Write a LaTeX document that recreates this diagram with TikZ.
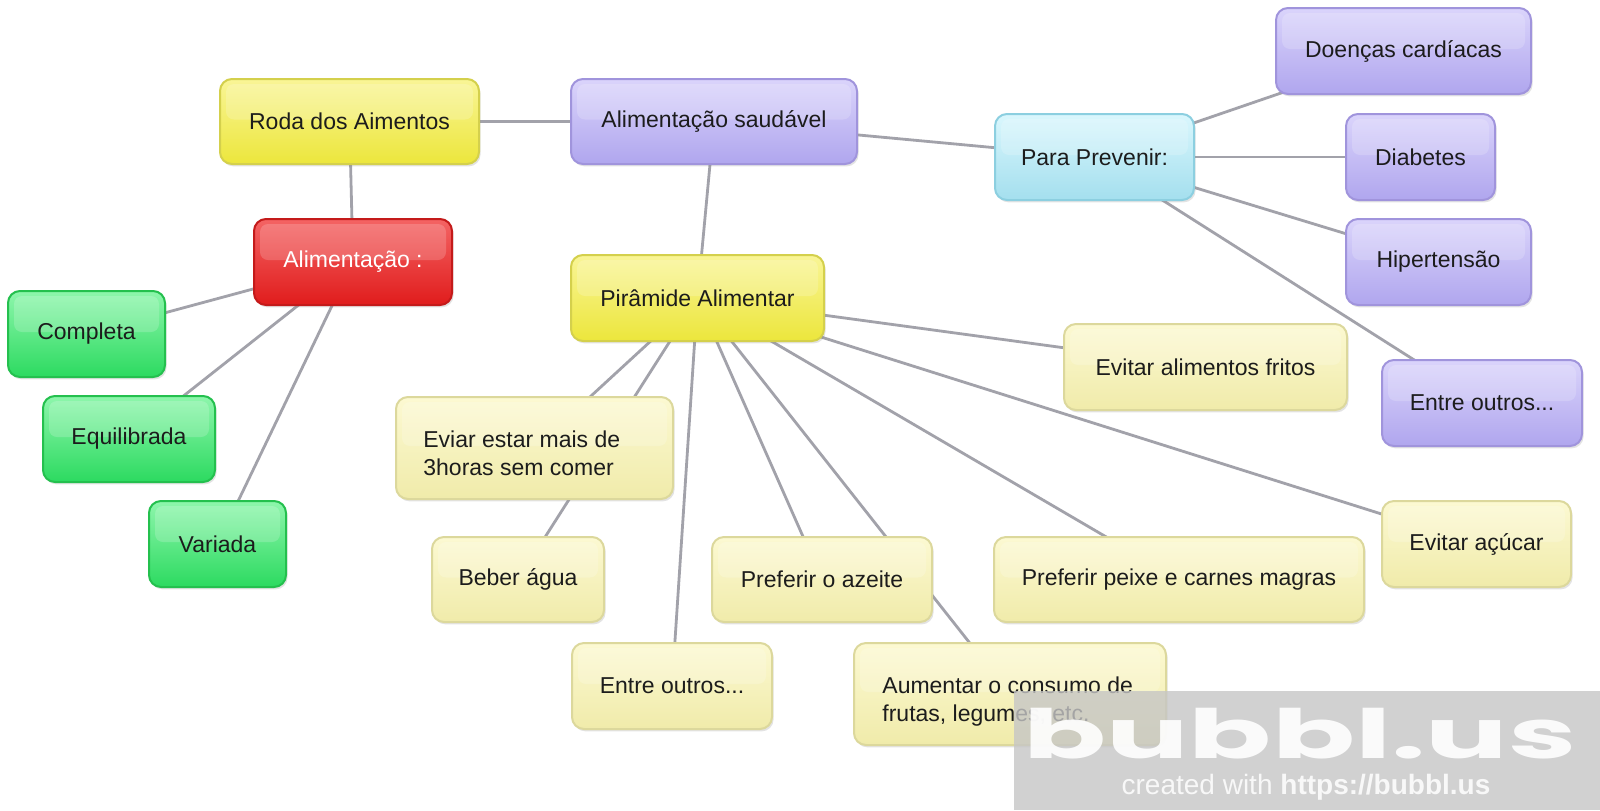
\documentclass[tikz,border=0pt]{standalone}
\usepackage{fontspec}
\setmainfont{Liberation Sans}
\newfontfamily\logofont{Poppins}
\usetikzlibrary{shadows}
\pgfdeclarelayer{background}
\pgfsetlayers{background,main}
\definecolor{txt}{HTML}{1C1C1C}
\definecolor{linec}{HTML}{A2A2AA}
\definecolor{ybT}{HTML}{F9F596}\definecolor{ybB}{HTML}{ECE63C}\definecolor{ybD}{HTML}{D4D04C}
\definecolor{ypT}{HTML}{FCF9D2}\definecolor{ypB}{HTML}{F0EBAA}\definecolor{ypD}{HTML}{DCD89C}
\definecolor{puT}{HTML}{DAD4FB}\definecolor{puB}{HTML}{B0A6EE}\definecolor{puD}{HTML}{A094DC}
\definecolor{cyT}{HTML}{DAF7FD}\definecolor{cyB}{HTML}{A4DFEE}\definecolor{cyD}{HTML}{8CCFE0}
\definecolor{reT}{HTML}{F46464}\definecolor{reB}{HTML}{E01C1C}\definecolor{reD}{HTML}{C41A1A}
\definecolor{grT}{HTML}{8EF6AC}\definecolor{grB}{HTML}{2CDA60}\definecolor{grD}{HTML}{24C04E}
\tikzset{
  box/.style={rounded corners=6pt, line width=1pt, text=txt, inner sep=0pt,
    font=\fontsize{11.5pt}{14pt}\selectfont,
    drop shadow={opacity=0.22, shadow xshift=0.8pt, shadow yshift=-1.2pt},
    path picture={\fill[white, opacity=0.18, rounded corners=4pt]
      ([xshift=3pt,yshift=-2.5pt]path picture bounding box.north west) rectangle
      ([xshift=-3pt,yshift=1pt]path picture bounding box.east);}},
  yb/.style={box, draw=ybD, top color=ybT, bottom color=ybB},
  yp/.style={box, draw=ypD, top color=ypT, bottom color=ypB},
  pu/.style={box, draw=puD, top color=puT, bottom color=puB},
  cy/.style={box, draw=cyD, top color=cyT, bottom color=cyB},
  re/.style={box, draw=reD, top color=reT, bottom color=reB, text=white},
  gr/.style={box, draw=grD, top color=grT, bottom color=grB},
  boxtext/.style={text=txt, inner sep=0pt, align=left, anchor=west,
    font=\fontsize{11.5pt}{14pt}\selectfont},
  link/.style={draw=linec, line width=1.4pt},
}
\begin{document}
\begin{tikzpicture}[x=0.5pt,y=-0.5pt]
\useasboundingbox (0,0) rectangle (1600,810);
% nodes
\node[yb, minimum width=129.5pt, minimum height=42.5pt] (roda) at (349.5,121.5) {Roda dos Aimentos};
\node[pu, minimum width=143pt, minimum height=42.5pt] (sau) at (714,121.5) {Alimentação saudável};
\node[re, minimum width=99pt, minimum height=43pt] (alim) at (353,262) {Alimentação :};
\node[cy, minimum width=99.5pt, minimum height=43pt] (prev) at (1094.5,157) {Para Prevenir:};
\node[pu, minimum width=127.5pt, minimum height=43pt] (doen) at (1403.5,51) {Doenças cardíacas};
\node[pu, minimum width=74.5pt, minimum height=43pt] (diab) at (1420.5,157) {Diabetes};
\node[pu, minimum width=92.5pt, minimum height=43pt] (hip) at (1438.5,262) {Hipertensão};
\node[pu, minimum width=100pt, minimum height=43pt] (eoa) at (1482,403) {Entre outros...};
\node[gr, minimum width=78.5pt, minimum height=43pt] (comp) at (86.5,334) {Completa};
\node[gr, minimum width=86pt, minimum height=43pt] (equi) at (129,439) {Equilibrada};
\node[gr, minimum width=68.5pt, minimum height=43pt] (vari) at (217.5,544) {Variada};
\node[yb, minimum width=126.5pt, minimum height=43pt] (pir) at (697.5,298) {Pirâmide Alimentar};
\node[yp, minimum width=141.5pt, minimum height=43pt] (fritos) at (1205.5,367) {Evitar alimentos fritos};
\node[yp, minimum width=138.5pt, minimum height=51pt] (eviar) at (534.5,448) {};
\node[boxtext] (eviarT) at ([xshift=14pt,yshift=-2.5pt]eviar.west) {Eviar estar mais de\\3horas sem comer};
\node[yp, minimum width=86pt, minimum height=42.5pt] (beber) at (518,579.5) {Beber água};
\node[yp, minimum width=110pt, minimum height=42.5pt] (azeite) at (822,579.5) {Preferir o azeite};
\node[yp, minimum width=185pt, minimum height=42.5pt] (peixe) at (1179,579.5) {Preferir peixe e carnes magras};
\node[yp, minimum width=94.5pt, minimum height=43pt] (acucar) at (1476.5,544) {Evitar açúcar};
\node[yp, minimum width=100pt, minimum height=43pt] (eob) at (672,686) {Entre outros...};
\node[yp, minimum width=156pt, minimum height=51pt] (aum) at (1010,694) {};
\node[boxtext] (aumT) at ([xshift=14.5pt,yshift=-4pt]aum.west) {Aumentar o consumo de\\frutas, legumes, etc.};
% connectors
\begin{pgfonlayer}{background}
\fill[white] (0,0) rectangle (1600,810);
\draw[link] (sau.center) -- (roda.center);
\draw[link] (roda.center) -- (alim.center);
\draw[link] (sau.center) -- (prev.center);
\draw[link] (sau.center) -- (pir.center);
\draw[link] (prev.center) -- (doen.center);
\draw[link] (prev.center) -- (diab.center);
\draw[link] (prev.center) -- (hip.center);
\draw[link] (prev.center) -- (eoa.center);
\draw[link] (alim.center) -- (comp.center);
\draw[link] (alim.center) -- (equi.center);
\draw[link] (alim.center) -- (vari.center);
\draw[link] (pir.center) -- (eviar.center);
\draw[link] (pir.center) -- (beber.center);
\draw[link] (pir.center) -- (eob.center);
\draw[link] (pir.center) -- (azeite.center);
\draw[link] (pir.center) -- (aum.center);
\draw[link] (pir.center) -- (peixe.center);
\draw[link] (pir.center) -- (fritos.center);
\draw[link] (pir.center) -- (acucar.center);
\end{pgfonlayer}
% watermark
\fill[fill={rgb,255:red,198;green,198;blue,198}, opacity=0.8] (1014,691) rectangle (1600,810);
\node[text=white, opacity=0.9, inner sep=0pt, xscale=1.8,
  font=\logofont\bfseries\fontsize{34pt}{34pt}\selectfont] (logo) at (1300,734) {bubbl.us};
\node[text=white, opacity=0.85, inner sep=0pt,
  font=\fontsize{14pt}{16pt}\selectfont] (credit) at (1306,787) {created with \textbf{https://bubbl.us}};
\end{tikzpicture}
\end{document}
